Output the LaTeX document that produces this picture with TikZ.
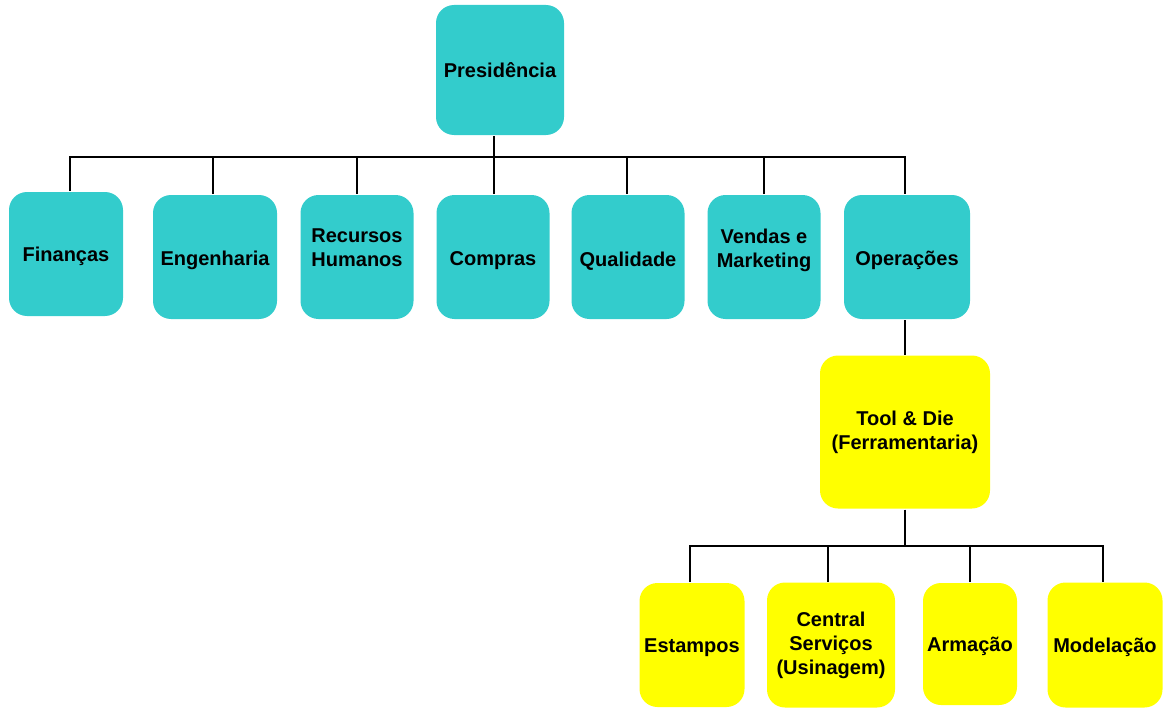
\documentclass[tikz,border=0pt]{standalone}
\usepackage{fontspec}
\setmainfont{Liberation Sans}
\usetikzlibrary{positioning}
\definecolor{teal1}{HTML}{33CCCC}
\definecolor{yell1}{HTML}{FFFF00}

\begin{document}
\begin{tikzpicture}[x=1pt,y=-1pt,line width=2pt,
    box/.style={rounded corners=18pt,inner sep=0pt,align=center,
        font=\fontsize{20}{24}\selectfont\bfseries},
    upper/.style={box,fill=teal1},
    lower/.style={box,fill=yell1},
    down/.style={text height=#1},
    up/.style={text depth=#1}]
                \useasboundingbox (0,0) rectangle (1163,709);
                \node[upper,minimum width=128pt,minimum height=130pt] (pres) at (500,70) {Presidência};
                \node[upper,down=19pt,minimum width=114pt,minimum height=124pt] (fin) at (66,254) {Finanças};
                \node[upper,down=22pt,minimum width=124pt,minimum height=124pt] (eng) at (215,257) {Engenharia};
                \node[upper,up=18pt,minimum width=113pt,minimum height=124pt] (rh) at (357,257) {Recursos\\Humanos};
                \node[upper,down=22pt,minimum width=113pt,minimum height=124pt] (comp) at (493,257) {Compras};
                \node[upper,down=22pt,minimum width=113pt,minimum height=124pt] (qual) at (628,257) {Qualidade};
                \node[upper,up=18pt,minimum width=113pt,minimum height=124pt] (vend) at (764,257) {Vendas e\\Marketing};
                \node[upper,down=22pt,minimum width=126pt,minimum height=124pt] (oper) at (907,257) {Operações};
                \node[lower,minimum width=170pt,minimum height=153pt] (tool) at (905,432) {Tool \& Die\\(Ferramentaria)};
                \node[lower,down=20pt,minimum width=105pt,minimum height=124pt] (est) at (692,645) {Estampos};
                \node[lower,minimum width=128pt,minimum height=125pt] (cent) at (831,645) {Central\\Serviços\\(Usinagem)};
                \node[lower,down=20pt,minimum width=94pt,minimum height=122pt] (arm) at (970,644) {Armação};
                \node[lower,down=20pt,minimum width=115pt,minimum height=125pt] (mod) at (1105,645) {Modelação};
                \coordinate (busA) at (494,157);
                \coordinate (busB) at (905,546);
                \draw (pres.south -| busA) -- (busA);
                \draw ([xshift=4pt]fin.north) |- (busA) -| ([xshift=-2pt]oper.north);
                \draw ([xshift=-2pt]eng.north) -- ([xshift=-2pt]eng.north |- busA);
                \draw (rh.north) -- (rh.north |- busA);
                \draw ([xshift=1pt]comp.north) -- ([xshift=1pt]comp.north |- busA);
                \draw ([xshift=-1pt]qual.north) -- ([xshift=-1pt]qual.north |- busA);
                \draw (vend.north) -- (vend.north |- busA);
                \draw ([xshift=-2pt]oper.south) -- (tool.north);
                \draw (tool.south) -- (busB);
                \draw ([xshift=-2pt]est.north) |- (busB) -| ([xshift=-2pt]mod.north);
                \draw ([xshift=-3pt]cent.north) -- ([xshift=-3pt]cent.north |- busB);
                \draw (arm.north) -- (arm.north |- busB);
            \end{tikzpicture}
\end{document}
